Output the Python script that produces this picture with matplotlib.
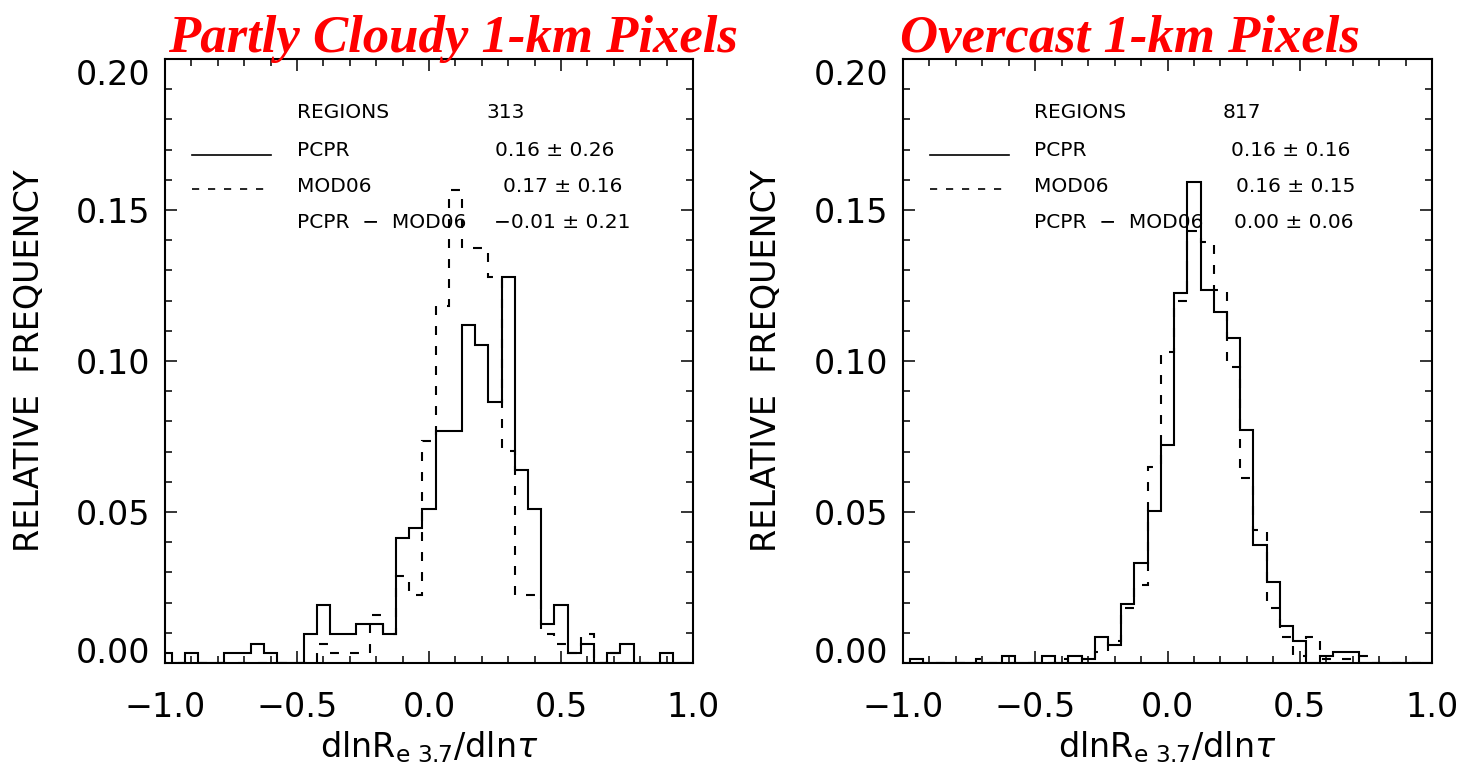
import numpy as np
import matplotlib
matplotlib.use('Agg')
import matplotlib.pyplot as plt
from matplotlib.ticker import FixedLocator, MultipleLocator, FuncFormatter
from matplotlib.lines import Line2D

# centros dos bins (largura 0.05), de -1.0 a 1.0
centros = np.round(np.linspace(-1.0, 1.0, 41), 2)
largura = 0.05

# contagens por bin
parcial_pcpr = [1, 0, 1, 0, 0, 1, 1, 2, 1, 0, 0, 3, 6, 3, 3, 4, 4, 3, 13, 14,
                16, 24, 24, 35, 33, 27, 40, 20, 16, 4, 6, 1, 2, 0, 1, 2, 0, 0, 1, 0, 0]
parcial_mod06 = [0, 0, 0, 0, 0, 0, 0, 0, 0, 0, 0, 0, 2, 1, 1, 1, 5, 3, 9, 7,
                 23, 37, 49, 43, 43, 40, 22, 7, 7, 3, 2, 1, 3, 0, 1, 0, 0, 0, 0, 0, 0]
nublado_pcpr = [0, 1, 0, 0, 0, 0, 0, 0, 2, 0, 0, 2, 0, 2, 1, 7, 5, 16, 27, 41,
                59, 100, 130, 101, 95, 88, 63, 32, 22, 10, 6, 0, 2, 3, 3, 0, 0, 0, 0, 0, 0]
nublado_mod06 = [0, 0, 0, 0, 0, 0, 1, 0, 0, 0, 0, 0, 1, 0, 1, 3, 6, 15, 21, 53,
                 84, 98, 117, 114, 101, 80, 50, 36, 15, 7, 2, 7, 1, 1, 1, 2, 0, 0, 0, 0, 0]

regioes = [313, 817]
titulos = ['Partly Cloudy 1-km Pixels', 'Overcast 1-km Pixels']
rotulos = ['REGIONS', 'PCPR', 'MOD06', 'PCPR  \u2212  MOD06']
valores_parcial = ['313', '0.16 \u00b1 0.26', '0.17 \u00b1 0.16', '\u22120.01 \u00b1 0.21']
valores_nublado = ['817', '0.16 \u00b1 0.16', '0.16 \u00b1 0.15', '0.00 \u00b1 0.06']

ticks_x = [-1.0, -0.5, 0.0, 0.5, 1.0]
ticks_y = [0.0, 0.05, 0.10, 0.15, 0.20]

W, H = 1460, 769
def fx(x):
    return x / W
def fy(y):
    return 1 - y / H

fig = plt.figure(figsize=(W / 100, H / 100), dpi=100)
plt.rcParams['font.family'] = ['DejaVu Sans']
plt.rcParams['mathtext.fontset'] = 'dejavusans'

tracejado = (0, (4.3, 5.3))
bordas = np.append(centros - largura / 2, centros[-1] + largura / 2)

def fmt_x(v, pos):
    return ('%.1f' % v).replace('-', '\u2212')

def fmt_y(v, pos):
    return '%.2f' % v

paineis = [
    # x0, x1, contagens, titulo x, textos
    (165, 693, parcial_pcpr, parcial_mod06, 168, valores_parcial,
     [297, 297, 297, 297], [486, 495, 503, 494], 30),
    (903, 1432, nublado_pcpr, nublado_mod06, 900, valores_nublado,
     [1034, 1034, 1034, 1034], [1223, 1231, 1236, 1234], 767),
]

for i, (x0, x1, pcpr, mod06, tx, valores, lx, vx, ylx) in enumerate(paineis):
    ax = fig.add_axes([fx(x0), fy(663), (x1 - x0) / W, (663 - 59) / H])
    n = regioes[i]
    ax.stairs(np.array(pcpr) / n, bordas, color='black', lw=1.5)
    ax.stairs(np.array(mod06) / n, bordas, color='black', lw=1.5, linestyle=tracejado)

    ax.set_xlim(-1.0, 1.0)
    ax.set_ylim(0.0, 0.20)
    ax.xaxis.set_major_locator(FixedLocator(ticks_x))
    ax.xaxis.set_minor_locator(MultipleLocator(0.1))
    ax.yaxis.set_major_locator(FixedLocator(ticks_y))
    ax.yaxis.set_minor_locator(MultipleLocator(0.01))
    ax.xaxis.set_major_formatter(FuncFormatter(fmt_x))
    ax.yaxis.set_major_formatter(FuncFormatter(fmt_y))
    ax.tick_params(which='both', direction='in', top=True, right=True, width=1.1)
    ax.tick_params(which='major', length=8.6)
    ax.tick_params(which='minor', length=4.7)
    ax.tick_params(axis='x', which='major', pad=20, labelsize=24)
    ax.tick_params(axis='y', which='major', pad=10.5, labelsize=24)
    for s in ax.spines.values():
        s.set_linewidth(1.5)

    # rotulos das pontas do eixo y deslocados para dentro (como no IDL)
    marcas = ax.yaxis.get_major_ticks()
    marcas[0].label1.set_va('baseline')
    marcas[-1].label1.set_va('top')

    # titulo em vermelho
    fig.text(fx(tx), fy(52), titulos[i], color='red', fontsize=38,
             family='Liberation Serif', weight='bold', style='italic', va='baseline')

    # rotulos dos eixos
    fig.text(fx(ylx), fy(361), 'RELATIVE  FREQUENCY', rotation=90,
             ha='center', va='center', fontsize=24)
    fig.text(fx((x0 + x1) / 2), fy(757), r'dlnR$_{\mathrm{e\ 3.7}}$/dln$\tau$',
             ha='center', va='baseline', fontsize=24)

    # legenda com estatisticas
    linhas_y = [113, 150, 186, 222]
    for j in range(4):
        fig.text(fx(lx[j]), fy(linhas_y[j]), rotulos[j], fontsize=14.5, va='center')
        fig.text(fx(vx[j]), fy(linhas_y[j]), valores[j], fontsize=14.5, va='center')
    lx0 = x0 + 27
    fig.add_artist(Line2D([fx(lx0), fx(lx0 + 79)], [fy(155), fy(155)],
                          transform=fig.transFigure, color='black', lw=1.2))
    fig.add_artist(Line2D([fx(lx0), fx(lx0 + 79)], [fy(189), fy(189)],
                          transform=fig.transFigure, color='black', lw=1.2,
                          linestyle=tracejado))

fig.savefig('out.png', dpi=100)
